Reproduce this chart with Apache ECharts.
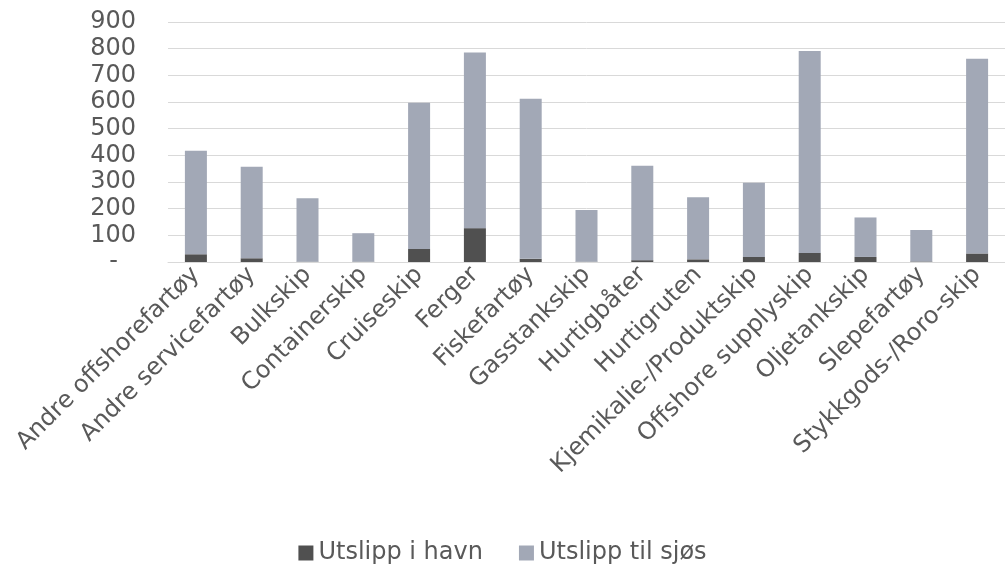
<!DOCTYPE html>
<html>
<head>
<meta charset="utf-8">
<script src="https://cdn.jsdelivr.net/npm/echarts@6/dist/echarts.min.js"></script>
<style>
  html, body { margin: 0; padding: 0; background: #fff; }
  #chart { width: 1005px; height: 564px; }
</style>
</head>
<body>
<div id="chart"></div>
<script>
// skipstyper
var categories = ['Andre offshorefartøy', 'Andre servicefartøy', 'Bulkskip', 'Containerskip', 'Cruiseskip',
    'Ferger', 'Fiskefartøy', 'Gasstankskip', 'Hurtigbåter', 'Hurtigruten', 'Kjemikalie-/Produktskip',
    'Offshore supplyskip', 'Oljetankskip', 'Slepefartøy', 'Stykkgods-/Roro-skip'];
var havn = [29, 14, 1, 1, 49, 127, 12, 1, 7, 10, 19, 34, 19, 2, 32];
var sjos = [388, 343, 238, 107, 548, 659, 600, 194, 354, 233, 278, 757, 148, 118, 730];
var yTicks = [0, 100, 200, 300, 400, 500, 600, 700, 800, 900];

var textColor = '#595959';
var font = 'DejaVu Sans';

var chart = echarts.init(document.getElementById('chart'));
chart.setOption({
    animation: false,
    color: ['#505050', '#a2a8b6'],
    grid: { left: 168, right: 0, top: 22, bottom: 302, containLabel: false },
    legend: {
        bottom: -6,
        left: 'center',
        itemWidth: 15,
        itemHeight: 15,
        itemGap: 36,
        itemStyle: { borderWidth: 0 },
        icon: 'rect',
        textStyle: { color: textColor, fontSize: 24, fontFamily: font },
        data: ['Utslipp i havn', 'Utslipp til sjøs']
    },
    xAxis: {
        type: 'category',
        data: categories,
        axisLine: { lineStyle: { color: '#d9d9d9', width: 1 } },
        axisTick: { show: false },
        axisLabel: {
            rotate: 45,
            interval: 0,
            margin: 9,
            color: textColor,
            fontSize: 24,
            fontFamily: font
        }
    },
    yAxis: {
        type: 'value',
        min: yTicks[0],
        max: yTicks[yTicks.length - 1],
        interval: 100,
        axisLine: { show: false },
        axisTick: { show: false },
        splitLine: { lineStyle: { color: '#d9d9d9', width: 1 } },
        axisLabel: {
            margin: 32,
            color: textColor,
            fontSize: 24,
            fontFamily: font,
            formatter: function (v) {
                return v === 0 ? '{d|-}' : String(v);
            },
            rich: {
                d: { color: textColor, fontSize: 24, fontFamily: font, padding: [0, 18, 0, 0] }
            }
        }
    },
    series: [
        {
            name: 'Utslipp i havn',
            type: 'bar',
            stack: 'tot',
            barWidth: 22,
            data: havn
        },
        {
            name: 'Utslipp til sjøs',
            type: 'bar',
            stack: 'tot',
            barWidth: 22,
            data: sjos
        }
    ]
});
</script>
</body>
</html>
